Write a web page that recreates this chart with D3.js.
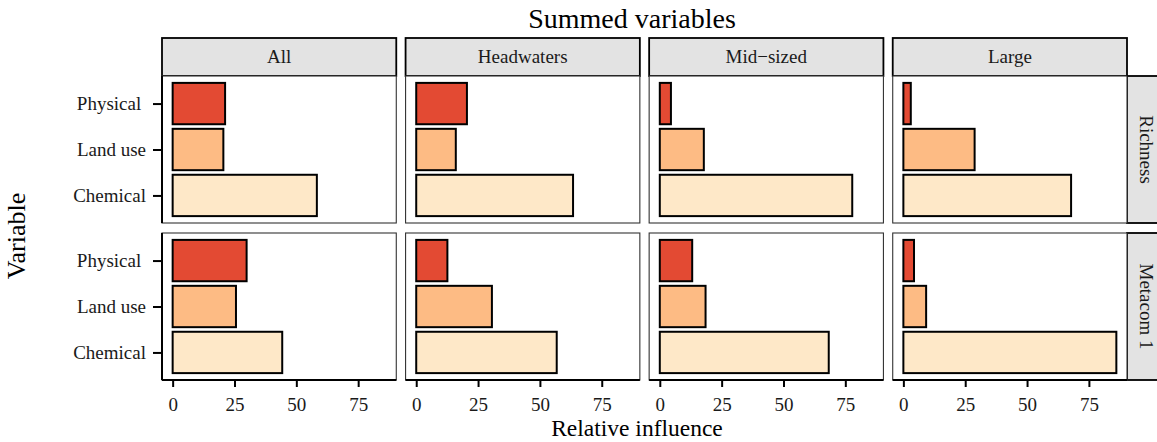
<!DOCTYPE html>
<html>
<head>
<meta charset="utf-8">
<script src="https://cdn.jsdelivr.net/npm/d3@7"></script>
<style>
  body { margin: 0; background: #fff; }
  svg { display: block; font-family: "Liberation Serif", "DejaVu Serif", serif; }
</style>
</head>
<body>
<svg id="chart" width="1157" height="442"></svg>
<script>
// ---- data ----
const columns = ["All", "Headwaters", "Mid\u2212sized", "Large"];
const rows = ["Richness", "Metacom 1"];
const variables = ["Physical ", "Land use", "Chemical"];
const physicalRichness = [21.2, 20.5, 4.5, 3.0];
const landUseRichness  = [20.5, 16.0, 17.8, 28.8];
const chemicalRichness = [58.3, 63.4, 77.8, 67.8];
const physicalMetacom  = [29.9, 12.6, 13.1, 4.3];
const landUseMetacom   = [25.6, 30.6, 18.5, 9.2];
const chemicalMetacom  = [44.3, 56.8, 68.3, 86.1];
const xTicks = [0, 25, 50, 75];
const fillColors = ["#e34a33", "#fdbb84", "#fee8c8"];

const rowData = [
  [physicalRichness, landUseRichness, chemicalRichness],
  [physicalMetacom, landUseMetacom, chemicalMetacom]
];

// ---- layout ----
const svg = d3.select("#chart");
const left = 162, right = 1127, gap = 9.3;
const panelW = (right - left - gap * (columns.length - 1)) / columns.length;
const stripTop = 38, stripH = 38;
const rowTops = [76, 233];
const panelH = 147;

const maxV = d3.max(rowData.flat(2));
const pad = maxV * 0.05;
const x = d3.scaleLinear().domain([-pad, maxV + pad]).range([0, panelW]);
const y = d3.scalePoint().domain(variables).range([0, panelH]).padding(0.6);
const bandH = y.step() * 0.9;

// title
svg.append("text").attr("x", 632).attr("y", 28).attr("text-anchor", "middle")
  .attr("font-size", 28).attr("fill", "#000").text("Summed variables");

// column strips
columns.forEach((c, ci) => {
  const px = left + ci * (panelW + gap);
  svg.append("rect").attr("x", px).attr("y", stripTop).attr("width", panelW).attr("height", stripH)
    .attr("fill", "#e3e3e3").attr("stroke", "#000").attr("stroke-width", 1.8);
  svg.append("text").attr("x", px + panelW / 2).attr("y", stripTop + stripH / 2 + 6)
    .attr("text-anchor", "middle").attr("font-size", 19).attr("fill", "#1a1a1a").text(c);
});

// row strips
rows.forEach((r, ri) => {
  const top = rowTops[ri];
  svg.append("rect").attr("x", right).attr("y", top).attr("width", 40).attr("height", panelH)
    .attr("fill", "#e3e3e3").attr("stroke", "#000").attr("stroke-width", 1.8);
  svg.append("text").attr("transform", `translate(${right + 13},${top + panelH / 2}) rotate(90)`)
    .attr("text-anchor", "middle").attr("font-size", 19).attr("fill", "#1a1a1a").text(r);
});

// panels
rows.forEach((r, ri) => {
  const top = rowTops[ri];
  columns.forEach((c, ci) => {
    const px = left + ci * (panelW + gap);
    const g = svg.append("g").attr("transform", `translate(${px},${top})`);
    g.append("rect").attr("width", panelW).attr("height", panelH)
      .attr("fill", "#fff").attr("stroke", "#333").attr("stroke-width", 1.1);
    const vals = variables.map((v, vi) => ({ v, value: rowData[ri][vi][ci], fill: fillColors[vi] }));
    g.selectAll("rect.bar").data(vals).join("rect").attr("class", "bar")
      .attr("x", x(0)).attr("y", d => y(d.v) - bandH / 2)
      .attr("width", d => x(d.value) - x(0)).attr("height", bandH)
      .attr("fill", d => d.fill).attr("stroke", "#000").attr("stroke-width", 2);

    if (ci === 0) {
      const ya = g.append("g").call(d3.axisLeft(y).tickSize(9).tickPadding(7));
      ya.select(".domain").attr("stroke", "#000").attr("stroke-width", 2)
        .attr("d", `M0,0V${panelH}`);
      ya.selectAll(".tick line").attr("stroke", "#000").attr("stroke-width", 2);
      ya.selectAll(".tick text").attr("font-size", 19).attr("fill", "#1a1a1a")
        .attr("font-family", "Liberation Serif, serif").style("white-space", "pre");
    }
    if (ri === rows.length - 1) {
      const xa = g.append("g").attr("transform", `translate(0,${panelH})`)
        .call(d3.axisBottom(x).tickValues(xTicks).tickSize(7).tickPadding(11));
      xa.select(".domain").attr("stroke", "#000").attr("stroke-width", 2)
        .attr("d", `M0,0H${panelW}`);
      xa.selectAll(".tick line").attr("stroke", "#000").attr("stroke-width", 2);
      xa.selectAll(".tick text").attr("font-size", 19).attr("fill", "#1a1a1a")
        .attr("font-family", "Liberation Serif, serif");
    }
  });
});

// axis titles
svg.append("text").attr("x", 637).attr("y", 436).attr("text-anchor", "middle")
  .attr("font-size", 23.5).attr("fill", "#000").text("Relative influence");
svg.append("text").attr("transform", "translate(25,236) rotate(-90)")
  .attr("text-anchor", "middle").attr("font-size", 26).attr("fill", "#000").text("Variable");
</script>
</body>
</html>
